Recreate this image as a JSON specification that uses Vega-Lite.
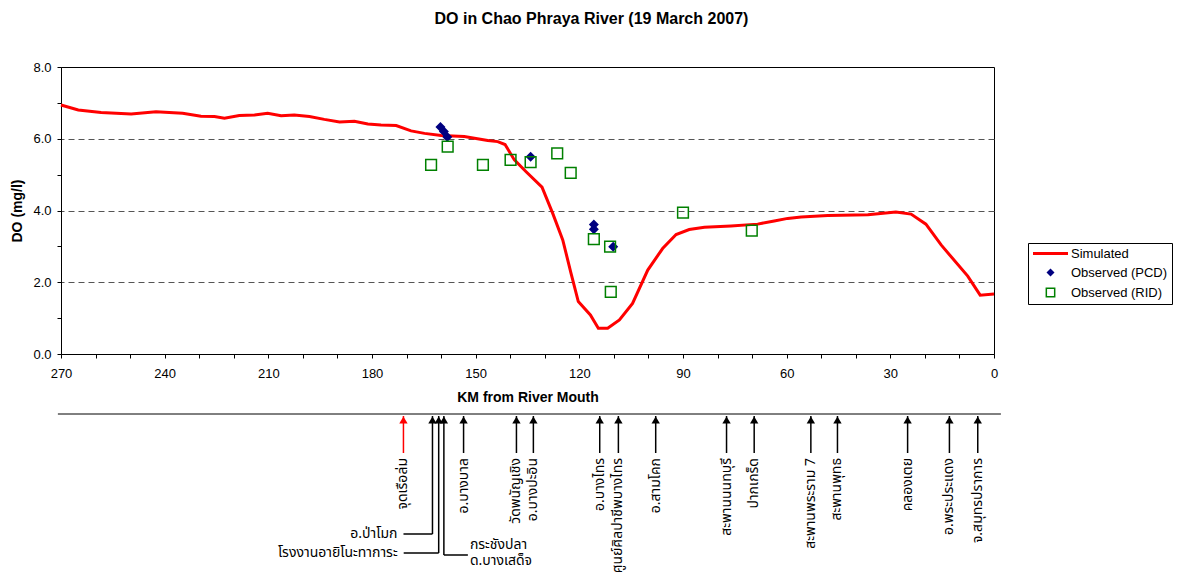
{
  "$schema": "https://vega.github.io/schema/vega-lite/v6.json",
  "background": "white",
  "padding": {"left": 10, "top": 10, "right": 2, "bottom": 0},
  "title": {"text": "DO in Chao Phraya River (19 March 2007)", "font": "Liberation Sans", "fontSize": 16, "fontWeight": "bold", "color": "black", "anchor": "middle", "offset": 34},
  "datasets": {
    "simulated": [
      {"km": 270, "do": 6.94}, {"km": 265, "do": 6.80}, {"km": 258.4, "do": 6.73}, {"km": 249.7, "do": 6.69},
      {"km": 242.5, "do": 6.75}, {"km": 234.8, "do": 6.71}, {"km": 229.5, "do": 6.63}, {"km": 225.6, "do": 6.62},
      {"km": 222.7, "do": 6.57}, {"km": 218.4, "do": 6.65}, {"km": 214, "do": 6.66}, {"km": 210.2, "do": 6.71},
      {"km": 206.3, "do": 6.64}, {"km": 202.5, "do": 6.66}, {"km": 198.1, "do": 6.62}, {"km": 193.8, "do": 6.54},
      {"km": 189.4, "do": 6.47}, {"km": 185.1, "do": 6.49}, {"km": 181.2, "do": 6.41}, {"km": 177.4, "do": 6.38},
      {"km": 173, "do": 6.37}, {"km": 168.7, "do": 6.22}, {"km": 164.8, "do": 6.15}, {"km": 160, "do": 6.09},
      {"km": 153.3, "do": 6.06}, {"km": 146.5, "do": 5.95}, {"km": 143.6, "do": 5.92}, {"km": 141.5, "do": 5.84},
      {"km": 138.8, "do": 5.41}, {"km": 135.4, "do": 5.08}, {"km": 130.8, "do": 4.65}, {"km": 127.7, "do": 3.92},
      {"km": 124.8, "do": 3.18}, {"km": 122.4, "do": 2.25}, {"km": 120.3, "do": 1.46}, {"km": 116.8, "do": 1.09},
      {"km": 114.5, "do": 0.72}, {"km": 111.8, "do": 0.72}, {"km": 108.4, "do": 0.95}, {"km": 104.6, "do": 1.41},
      {"km": 100.2, "do": 2.34}, {"km": 95.9, "do": 2.94}, {"km": 92, "do": 3.33}, {"km": 88.2, "do": 3.47},
      {"km": 83.8, "do": 3.53}, {"km": 76.1, "do": 3.57}, {"km": 68.4, "do": 3.62}, {"km": 63.6, "do": 3.71},
      {"km": 59.7, "do": 3.78}, {"km": 55.8, "do": 3.82}, {"km": 48.1, "do": 3.86}, {"km": 36.5, "do": 3.88},
      {"km": 28.4, "do": 3.96}, {"km": 24, "do": 3.90}, {"km": 19.7, "do": 3.62}, {"km": 15.3, "do": 3.04},
      {"km": 7.6, "do": 2.17}, {"km": 4, "do": 1.64}, {"km": 0, "do": 1.67}
    ],
    "observed": [
      {"source": "PCD", "km": 160.2, "do": 6.33}, {"source": "PCD", "km": 159.2, "do": 6.20}, {"source": "PCD", "km": 158.2, "do": 6.05},
      {"source": "PCD", "km": 134.1, "do": 5.50}, {"source": "PCD", "km": 115.8, "do": 3.61}, {"source": "PCD", "km": 115.8, "do": 3.48},
      {"source": "PCD", "km": 110.2, "do": 2.99},
      {"source": "RID", "km": 162.9, "do": 5.27}, {"source": "RID", "km": 158.1, "do": 5.78}, {"source": "RID", "km": 147.9, "do": 5.27},
      {"source": "RID", "km": 139.9, "do": 5.41}, {"source": "RID", "km": 134.1, "do": 5.35}, {"source": "RID", "km": 126.4, "do": 5.59},
      {"source": "RID", "km": 122.5, "do": 5.05}, {"source": "RID", "km": 115.8, "do": 3.20}, {"source": "RID", "km": 111.1, "do": 2.99},
      {"source": "RID", "km": 110.9, "do": 1.73}, {"source": "RID", "km": 90.0, "do": 3.94}, {"source": "RID", "km": 70.1, "do": 3.44}
    ],
    "stations": [
      {"station": "จุดเรือล่ม", "km": 170.9, "kind": "incident", "callout": "none"},
      {"station": "อ.ป่าโมก", "km": 162.5, "kind": "station", "callout": "left-upper"},
      {"station": "โรงงานอายิโนะทาการะ", "km": 160.7, "kind": "station", "callout": "left-lower"},
      {"station": "กระชังปลา\nด.บางเสด็จ", "km": 159.2, "kind": "station", "callout": "right"},
      {"station": "อ.บางบาล", "km": 153.5, "kind": "station", "callout": "none"},
      {"station": "วัดพนัญเชิง", "km": 138.2, "kind": "station", "callout": "none"},
      {"station": "อ.บางปะอิน", "km": 133.3, "kind": "station", "callout": "none"},
      {"station": "อ.บางไทร", "km": 114.1, "kind": "station", "callout": "none"},
      {"station": "ศูนย์ศิลปาชีพบางไทร", "km": 108.7, "kind": "station", "callout": "none"},
      {"station": "อ.สามโคก", "km": 97.9, "kind": "station", "callout": "none"},
      {"station": "สะพานนนทบุรี", "km": 77.4, "kind": "station", "callout": "none"},
      {"station": "ปากเกร็ด", "km": 69.4, "kind": "station", "callout": "none"},
      {"station": "สะพานพระราม 7", "km": 53.0, "kind": "station", "callout": "none"},
      {"station": "สะพานพุทธ", "km": 45.3, "kind": "station", "callout": "none"},
      {"station": "คลองเตย", "km": 25.0, "kind": "station", "callout": "none"},
      {"station": "อ.พระประแดง", "km": 12.9, "kind": "station", "callout": "none"},
      {"station": "จ.สมุทรปราการ", "km": 4.7, "kind": "station", "callout": "none"}
    ]
  },
  "spacing": 8,
  "resolve": {"scale": {"x": "shared"}},
  "vconcat": [
    {
      "width": 933,
      "height": 287,
      "view": {"stroke": "black", "strokeWidth": 1},
      "encoding": {
        "x": {"field": "km", "type": "quantitative",
          "scale": {"domain": [0, 270], "reverse": true, "nice": false, "zero": false},
          "axis": {"title": "KM from River Mouth", "tickCount": 54,
            "values": [0,5,10,15,20,25,30,35,40,45,50,55,60,65,70,75,80,85,90,95,100,105,110,115,120,125,130,135,140,145,150,155,160,165,170,175,180,185,190,195,200,205,210,215,220,225,230,235,240,245,250,255,260,265,270],
            "labelExpr": "datum.value % 30 === 0 ? format(datum.value, 'd') : ''",
            "tickSize": 4, "labelPadding": 9, "titlePadding": 10, "grid": false, "labelFlush": false, "labelOverlap": false}},
        "y": {"field": "do", "type": "quantitative",
          "scale": {"domain": [0, 8], "nice": false, "zero": true},
          "axis": {"title": "DO (mg/l)", "tickCount": 16, "values": [0,0.5,1,1.5,2,2.5,3,3.5,4,4.5,5,5.5,6,6.5,7,7.5,8],
            "labelExpr": "datum.value % 2 === 0 ? format(datum.value, '.1f') : ''",
            "tickSize": 4, "labelPadding": 6, "titlePadding": 8, "labelFlush": false, "labelOverlap": false,
            "grid": true, "gridDash": [6, 4], "gridColor": "#555555",
            "gridOpacity": {"condition": {"test": "datum.value % 2 === 0 && datum.value > 0 && datum.value < 8", "value": 1}, "value": 0}}}
      },
      "layer": [
        {
          "data": {"name": "simulated"},
          "mark": {"type": "line", "color": "#ff0000", "strokeWidth": 3},
          "encoding": {
            "color": {"datum": "Simulated", "type": "nominal",
              "scale": {"domain": ["Simulated", "Observed (PCD)", "Observed (RID)"], "range": ["#ff0000", "#000080", "#008000"]},
              "legend": {"title": null, "orient": "none", "legendX": 967, "legendY": 176,
                "padding": 4, "strokeColor": "black", "fillColor": "white", "rowPadding": 5,
                "labelFont": "Liberation Sans", "labelFontSize": 13, "labelColor": "black",
                "symbolSize": 64, "symbolStrokeWidth": 1.5, "symbolOffset": 12, "labelOffset": 14,
                "labelExpr": "datum.label + '\u00a0\u00a0\u00a0'",
                "encode": {"symbols": {"update": {
                  "shape": {"signal": "datum.value === 'Simulated' ? 'stroke' : (datum.value === 'Observed (PCD)' ? 'diamond' : 'square')"},
                  "size": {"signal": "datum.value === 'Simulated' ? 1225 : (datum.value === 'Observed (PCD)' ? 64 : 70)"},
                  "fill": {"signal": "datum.value === 'Observed (PCD)' ? '#000080' : 'transparent'"},
                  "fillOpacity": {"signal": "datum.value === 'Observed (PCD)' ? 1 : 0"},
                  "stroke": {"signal": "datum.value === 'Simulated' ? '#ff0000' : (datum.value === 'Observed (PCD)' ? '#000080' : '#008000')"},
                  "strokeWidth": {"signal": "datum.value === 'Simulated' ? 3 : (datum.value === 'Observed (PCD)' ? 0 : 1.5)"},
                  "opacity": {"value": 1}
                }}}}}
          }
        },
        {
          "data": {"name": "observed"},
          "transform": [{"filter": "datum.source === 'PCD'"}],
          "mark": {"type": "point", "shape": "diamond", "filled": true, "size": 100, "opacity": 1},
          "encoding": {
            "color": {"datum": "Observed (PCD)", "type": "nominal"}
          }
        },
        {
          "data": {"name": "observed"},
          "transform": [{"filter": "datum.source === 'RID'"}],
          "mark": {"type": "point", "shape": "square", "filled": false, "size": 115, "strokeWidth": 1.5, "opacity": 1},
          "encoding": {
            "color": {"datum": "Observed (RID)", "type": "nominal"}
          }
        }
      ]
    },
    {
      "width": 933,
      "height": 160,
      "view": {"stroke": null},
      "data": {"name": "stations"},
      "layer": [
        {
          "data": {"values": [{}]},
          "mark": {"type": "rule", "color": "black", "strokeWidth": 1},
          "encoding": {
            "x": {"datum": 270.9, "type": "quantitative", "scale": {"domain": [0, 270], "reverse": true, "nice": false, "zero": false}, "axis": null},
            "x2": {"datum": -2},
            "y": {"datum": 0, "type": "quantitative", "scale": {"domain": [0, 160], "reverse": true, "nice": false}, "axis": null}
          }
        },
        {
          "transform": [{"filter": "datum.callout === 'none'"}],
          "mark": {"type": "rule", "strokeWidth": 1.5, "color": "black"},
          "encoding": {
            "x": {"field": "km", "type": "quantitative", "axis": null},
            "y": {"datum": 2, "type": "quantitative", "axis": null},
            "y2": {"datum": 39},
            "color": {"condition": {"test": "datum.kind === 'incident'", "value": "#ff0000"}, "value": "black"}
          }
        },
        {
          "transform": [{"filter": "datum.callout === 'left-upper'"}],
          "mark": {"type": "rule", "strokeWidth": 1.5, "color": "black"},
          "encoding": {
            "x": {"field": "km", "type": "quantitative", "axis": null},
            "y": {"datum": 2, "type": "quantitative", "axis": null},
            "y2": {"datum": 120}
          }
        },
        {
          "transform": [{"filter": "datum.callout === 'left-upper'"}],
          "mark": {"type": "rule", "strokeWidth": 1.5, "color": "black", "x2Offset": -29},
          "encoding": {
            "x": {"field": "km", "type": "quantitative", "axis": null},
            "x2": {"field": "km"},
            "y": {"datum": 120, "type": "quantitative", "axis": null}
          }
        },
        {
          "transform": [{"filter": "datum.callout === 'left-upper'"}],
          "mark": {"type": "text", "align": "right", "baseline": "middle", "dx": -35, "fontSize": 14, "font": "Noto Sans Thai, Tahoma, sans-serif", "color": "black"},
          "encoding": {
            "x": {"field": "km", "type": "quantitative", "axis": null},
            "y": {"datum": 120, "type": "quantitative", "axis": null},
            "text": {"field": "station"}
          }
        },
        {
          "transform": [{"filter": "datum.callout === 'left-lower'"}],
          "mark": {"type": "rule", "strokeWidth": 1.5, "color": "black"},
          "encoding": {
            "x": {"field": "km", "type": "quantitative", "axis": null},
            "y": {"datum": 2, "type": "quantitative", "axis": null},
            "y2": {"datum": 139}
          }
        },
        {
          "transform": [{"filter": "datum.callout === 'left-lower'"}],
          "mark": {"type": "rule", "strokeWidth": 1.5, "color": "black", "x2Offset": -35},
          "encoding": {
            "x": {"field": "km", "type": "quantitative", "axis": null},
            "x2": {"field": "km"},
            "y": {"datum": 139, "type": "quantitative", "axis": null}
          }
        },
        {
          "transform": [{"filter": "datum.callout === 'left-lower'"}],
          "mark": {"type": "text", "align": "right", "baseline": "middle", "dx": -41, "fontSize": 14, "font": "Noto Sans Thai, Tahoma, sans-serif", "color": "black"},
          "encoding": {
            "x": {"field": "km", "type": "quantitative", "axis": null},
            "y": {"datum": 139, "type": "quantitative", "axis": null},
            "text": {"field": "station"}
          }
        },
        {
          "transform": [{"filter": "datum.callout === 'right'"}],
          "mark": {"type": "rule", "strokeWidth": 1.5, "color": "black"},
          "encoding": {
            "x": {"field": "km", "type": "quantitative", "axis": null},
            "y": {"datum": 2, "type": "quantitative", "axis": null},
            "y2": {"datum": 141}
          }
        },
        {
          "transform": [{"filter": "datum.callout === 'right'"}],
          "mark": {"type": "rule", "strokeWidth": 1.5, "color": "black", "x2Offset": 24},
          "encoding": {
            "x": {"field": "km", "type": "quantitative", "axis": null},
            "x2": {"field": "km"},
            "y": {"datum": 141, "type": "quantitative", "axis": null}
          }
        },
        {
          "transform": [{"filter": "datum.callout === 'right'"}],
          "mark": {"type": "text", "align": "left", "baseline": "middle", "dx": 26, "lineBreak": "\n", "lineHeight": 16, "fontSize": 14, "font": "Noto Sans Thai, Tahoma, sans-serif", "color": "black"},
          "encoding": {
            "x": {"field": "km", "type": "quantitative", "axis": null},
            "y": {"datum": 131, "type": "quantitative", "axis": null},
            "text": {"field": "station"}
          }
        },
        {
          "mark": {"type": "point", "shape": "triangle-up", "filled": true, "size": 70, "opacity": 1},
          "encoding": {
            "x": {"field": "km", "type": "quantitative", "axis": null},
            "y": {"datum": 6, "type": "quantitative", "axis": null},
            "color": {"condition": {"test": "datum.kind === 'incident'", "value": "#ff0000"}, "value": "black"}
          }
        },
        {
          "transform": [{"filter": "datum.callout === 'none'"}],
          "mark": {"type": "text", "angle": 270, "align": "right", "baseline": "middle", "fontSize": 14, "font": "Noto Sans Thai, Tahoma, sans-serif", "color": "black"},
          "encoding": {
            "x": {"field": "km", "type": "quantitative", "axis": null},
            "y": {"datum": 44, "type": "quantitative", "axis": null},
            "text": {"field": "station"}
          }
        }
      ]
    }
  ],
  "config": {
    "font": "Liberation Sans",
    "view": {"stroke": null},
    "axis": {"labelFont": "Liberation Sans", "labelFontSize": 13, "labelColor": "black", "titleFont": "Liberation Sans", "titleFontSize": 14, "titleFontWeight": "bold", "titleColor": "black", "domainColor": "black", "domainWidth": 1, "tickColor": "black", "tickWidth": 1}
  }
}
